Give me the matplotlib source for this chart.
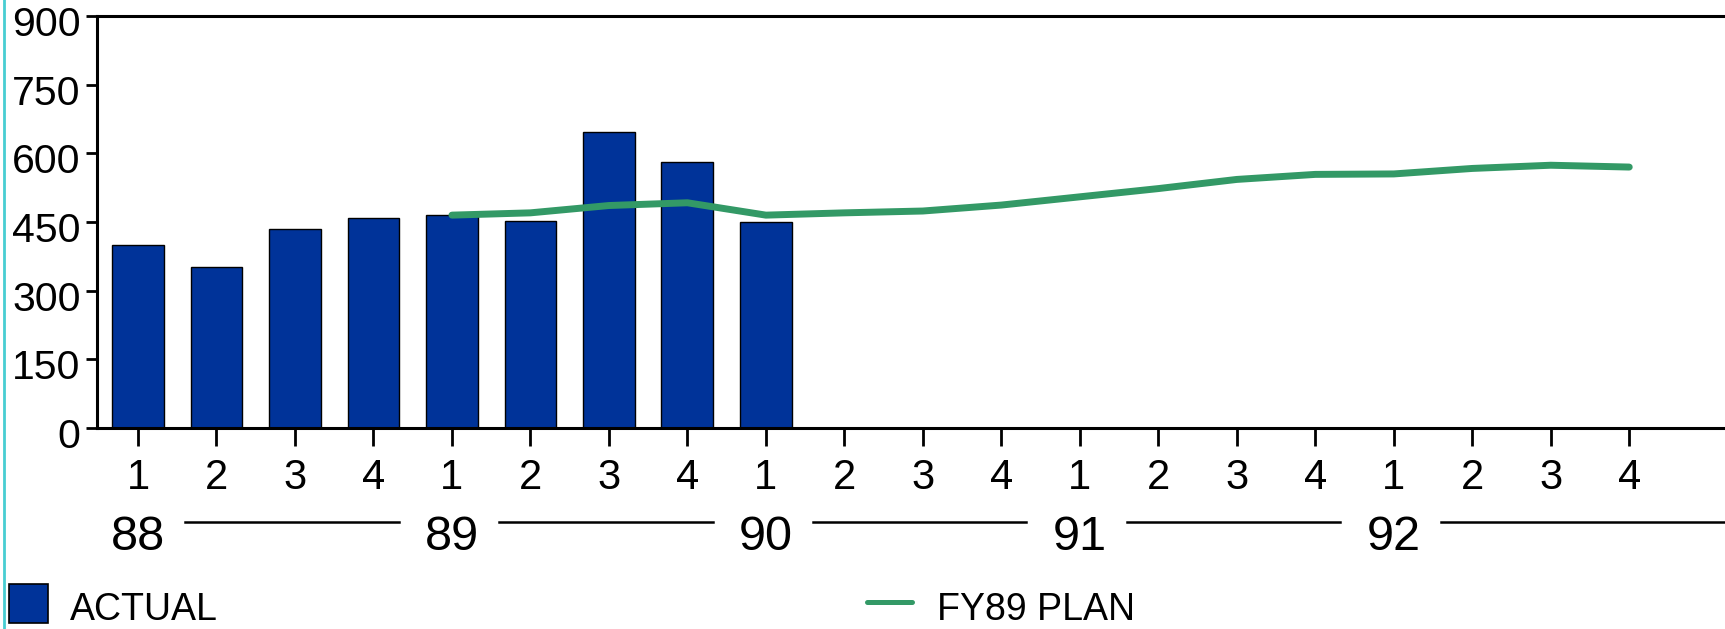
import matplotlib
matplotlib.use("Agg")
import matplotlib.pyplot as plt
from matplotlib import transforms
from matplotlib.patches import Rectangle
from matplotlib.lines import Line2D

# ---- data -------------------------------------------------------------
quarter_labels = ["1", "2", "3", "4"] * 5
year_labels = ["88", "89", "90", "91", "92"]
actual = [400, 351, 434, 458, 465, 452, 647, 581, 451]
plan_fy89 = [465, 470, 486, 492, 465, 470, 474, 487,
             505, 523, 543, 554, 555, 567, 574, 570]
plan_first_quarter = 4
y_ticks = [0, 150, 300, 450, 600, 750, 900]

# ---- style ------------------------------------------------------------
plt.rcParams["font.family"] = ["Liberation Sans", "DejaVu Sans"]
BAR_COLOR = "#003399"
PLAN_COLOR = "#339966"

W, H = 1725, 629
fig = plt.figure(figsize=(W / 100, H / 100), dpi=100)
fig.patch.set_facecolor("white")

left_px, top_px, base_px = 96.7, 16, 428
ax = fig.add_axes([left_px / W, 1 - base_px / H, 1 - left_px / W, (base_px - top_px) / H])

x_actual = list(range(len(actual)))
ax.bar(x_actual, actual, width=0.66, color=BAR_COLOR, edgecolor="black",
       linewidth=1.0, zorder=2)

x_plan = list(range(plan_first_quarter, plan_first_quarter + len(plan_fy89)))
ax.plot(x_plan, plan_fy89, color=PLAN_COLOR, lw=5, solid_capstyle="round",
        solid_joinstyle="round", zorder=3)

n_q = len(quarter_labels)
ax.set_xlim(-0.526, 20.22)
ax.set_ylim(0, 900)
ax.set_xticks(range(n_q))
ax.set_xticklabels(quarter_labels)
ax.set_yticks(y_ticks)
ax.set_yticklabels([str(v) for v in y_ticks])

ax.tick_params(axis="x", direction="out", length=13, width=2, pad=8.6,
               labelsize=30, colors="black")
ax.tick_params(axis="y", direction="out", length=8, width=2, pad=3.6,
               labelsize=29.5, colors="black")
for lab in ax.get_yticklabels():
    lab.set_transform(lab.get_transform() +
                      transforms.ScaledTranslation(0, -3.6 / 72, fig.dpi_scale_trans))

for side in ("left", "top", "bottom"):
    ax.spines[side].set_linewidth(2.2)
    ax.spines[side].set_color("black")
ax.spines["right"].set_visible(False)

# ---- year row under the quarter labels --------------------------------
yr_trans = transforms.blended_transform_factory(ax.transData, fig.transFigure)
year_pos = [i * 4 for i in range(len(year_labels))]
for i, (pos, yl) in enumerate(zip(year_pos, year_labels)):
    fig.text(pos, 1 - 550 / H, yl, transform=yr_trans, ha="center",
             va="baseline", fontsize=35)
    x0 = pos + 0.6
    x1 = year_pos[i + 1] - 0.68 if i + 1 < len(year_pos) else 20.22
    fig.add_artist(Line2D([x0, x1], [1 - 521.5 / H] * 2, transform=yr_trans,
                          color="black", lw=1.8))

# ---- legend -----------------------------------------------------------
fig.add_artist(Rectangle((9 / W, 1 - 623 / H), 39 / W, 39 / H,
                         transform=fig.transFigure, facecolor=BAR_COLOR,
                         edgecolor="black", lw=1.2))
fig.text(70 / W, 1 - 620 / H, "ACTUAL", fontsize=27, va="baseline", ha="left")
fig.add_artist(Line2D([867 / W, 912 / W], [1 - 602 / H] * 2,
                      transform=fig.transFigure, color=PLAN_COLOR, lw=3.6,
                      solid_capstyle="round"))
fig.text(937 / W, 1 - 620 / H, "FY89 PLAN", fontsize=27, va="baseline", ha="left")

# thin frame line on the left edge
fig.add_artist(Line2D([4.3 / W] * 2, [0, 1], transform=fig.transFigure,
                      color="#48CDD2", lw=2))

fig.savefig("out.png", dpi=100, facecolor="white")
